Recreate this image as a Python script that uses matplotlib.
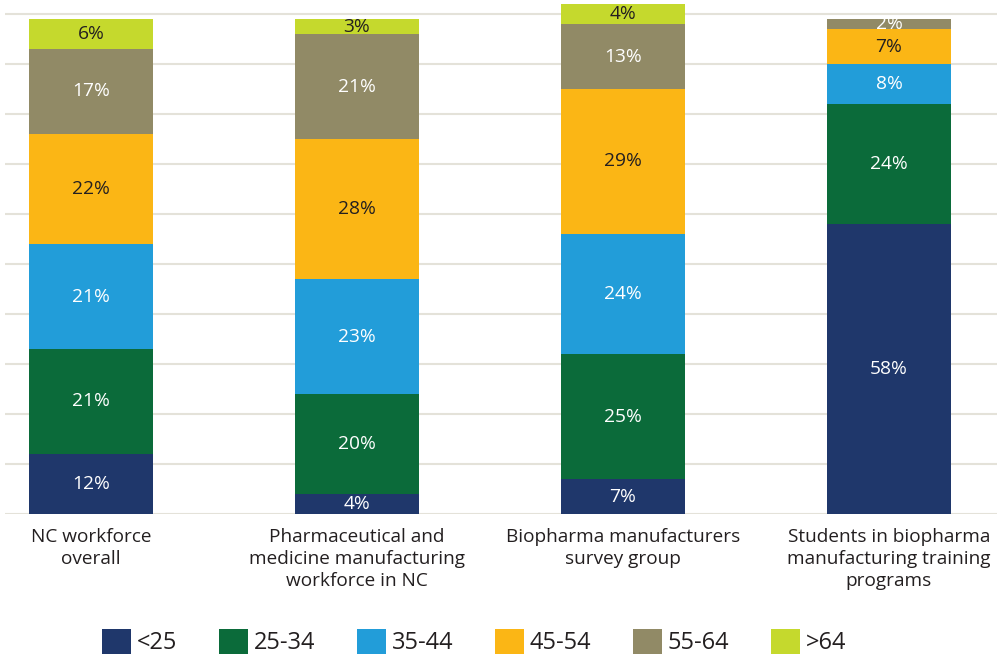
import matplotlib
matplotlib.use("Agg")
import matplotlib.pyplot as plt
from matplotlib.patches import Patch
import numpy as np

plt.rcParams['font.family'] = ['Open Sans', 'DejaVu Sans']

categories = [
    "NC workforce\noverall",
    "Pharmaceutical and\nmedicine manufacturing\nworkforce in NC",
    "Biopharma manufacturers\nsurvey group",
    "Students in biopharma\nmanufacturing training\nprograms",
]
age_groups = ["<25", "25-34", "35-44", "45-54", "55-64", ">64"]

under_25 = [12, 4, 7, 58]
age_25_34 = [21, 20, 25, 24]
age_35_44 = [21, 23, 24, 8]
age_45_54 = [22, 28, 29, 7]
age_55_64 = [17, 21, 13, 2]
over_64 = [6, 3, 4, 0]

series = [under_25, age_25_34, age_35_44, age_45_54, age_55_64, over_64]
colors = ["#1f376b", "#0b6b3a", "#229dd9", "#fbb615", "#918a66", "#c5d92d"]
label_colors = ["white", "white", "white", "#231f20", "white", "#231f20"]
dark = "#231f20"

W, H = 997, 658
fig = plt.figure(figsize=(W / 100, H / 100), dpi=100)
ax = fig.add_axes([5 / W, 1 - 514 / H, 1 - 5 / W, 514 / H])

x = np.arange(len(categories))
bar_w = 0.466
bottom = np.zeros(len(categories))
for vals, col, tcol in zip(series, colors, label_colors):
    vals = np.array(vals, dtype=float)
    ax.bar(x, vals, bar_w, bottom=bottom, color=col, zorder=3, linewidth=0)
    for xi, b, v in zip(x, bottom, vals):
        if v > 0:
            ax.text(xi, b + v / 2, f"{int(v)}%", ha="center", va="center",
                    color=tcol, fontsize=13.8, zorder=4)
    bottom += vals

ax.set_xlim(-0.323, 3.406)
ax.set_ylim(0, 102.8)
ax.set_yticks(np.arange(0, 101, 10))
ax.yaxis.grid(True, color="#e4e2d9", linewidth=1.5, zorder=0)
ax.tick_params(axis="y", length=0, labelleft=False)
ax.set_xticks(x)
ax.set_xticklabels(categories, fontsize=13.7, color=dark, linespacing=1.28)
ax.tick_params(axis="x", length=0, pad=10)
for s in ax.spines.values():
    s.set_visible(False)

handles = [Patch(facecolor=c, edgecolor="none") for c in colors]
fig.legend(handles, age_groups, loc="center", bbox_to_anchor=(474 / W, 1 - 642 / H),
           ncol=6, frameon=False, fontsize=17, handlelength=1.23, handleheight=1.23,
           handletextpad=0.25, columnspacing=1.76, labelcolor=dark)

fig.savefig("out.png", dpi=100)
